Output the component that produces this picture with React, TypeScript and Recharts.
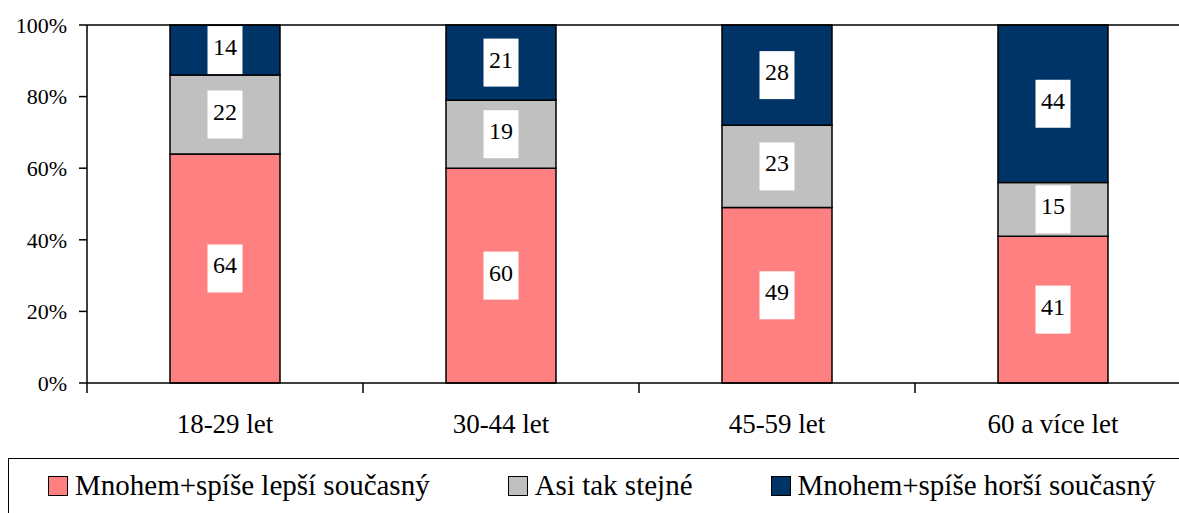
import React from 'react';
import { BarChart, Bar, XAxis, YAxis, ReferenceLine, LabelList, Legend } from 'recharts';

const categories = ['18-29 let', '30-44 let', '45-59 let', '60 a více let'];
const better = [64, 60, 49, 41];
const same = [22, 19, 23, 15];
const worse = [14, 21, 28, 44];
const yTicks = [0, 20, 40, 60, 80, 100];

const series = [
  { key: 'better', name: 'Mnohem+spíše lepší současný', color: '#FF8080' },
  { key: 'same', name: 'Asi tak stejné', color: '#C0C0C0' },
  { key: 'worse', name: 'Mnohem+spíše horší současný', color: '#003366' },
];

const data = categories.map((c, i) => ({
  category: c,
  better: better[i],
  same: same[i],
  worse: worse[i],
}));

const FONT = "'Liberation Serif', 'Times New Roman', 'DejaVu Serif', serif";
const TICK_GAP = 31;

// category label + separator tick marks between categories (Excel style)
function CategoryTick(props: any) {
  const { x, y, payload, index, visibleTicksCount } = props;
  const half = payload.offset || 0;
  const axisY = y - TICK_GAP;
  const last = index === (visibleTicksCount ?? categories.length) - 1;
  return (
    <g>
      <line x1={x - half} x2={x - half} y1={axisY} y2={axisY + 10} stroke="#000" strokeWidth={1.5} />
      {last && (
        <line x1={x + half} x2={x + half} y1={axisY} y2={axisY + 10} stroke="#000" strokeWidth={1.5} />
      )}
      <text x={x} y={y} dy="0.71em" textAnchor="middle" fontSize={27} fill="#000" style={{ fontFamily: FONT }}>
        {payload.value}
      </text>
    </g>
  );
}

// white box with the value, centred in the segment
function BoxLabel(props: any) {
  const { x, y, width, height, value } = props;
  const cx = Number(x) + Number(width) / 2;
  const cy = Number(y) + Number(height) / 2;
  return (
    <g>
      <rect x={cx - 17.5} y={cy - 24} width={35} height={48} fill="#fff" />
      <text x={cx} y={cy + 5} textAnchor="middle" fontSize={24} style={{ fontFamily: FONT }} fill="#000">
        {value}
      </text>
    </g>
  );
}

function LegendBox() {
  return (
    <div
      style={{
        width: 1200,
        height: 80,
        border: '1.5px solid #000',
        boxSizing: 'border-box',
        display: 'flex',
        alignItems: 'flex-start',
        paddingLeft: 39,
        paddingTop: 12,
        fontFamily: FONT,
        fontSize: 29,
        lineHeight: '29px',
        color: '#000',
        background: '#fff',
      }}
    >
      {series.map((s) => (
        <div key={s.key} style={{ display: 'flex', alignItems: 'flex-start', marginRight: 78 }}>
          <span
            style={{
              display: 'inline-block',
              width: 20,
              height: 20,
              marginTop: 5,
              marginRight: 7,
              background: s.color,
              border: '1px solid #000',
              boxSizing: 'border-box',
            }}
          />
          <span style={{ whiteSpace: 'nowrap' }}>{s.name}</span>
        </div>
      ))}
    </div>
  );
}

export default function App() {
  return (
    <div
      style={{
        position: 'absolute',
        left: 0,
        top: 0,
        width: 1179,
        height: 513,
        overflow: 'hidden',
        background: '#fff',
        fontFamily: FONT,
      }}
    >
      <BarChart
        width={1200}
        height={513}
        data={data}
        margin={{ top: 25, right: 9, bottom: 70, left: 0 }}
        barSize={110}
        style={{ fontFamily: FONT }}
      >
        <XAxis
          dataKey="category"
          height={60}
          tickLine={false}
          tickSize={0}
          tickMargin={TICK_GAP}
          interval={0}
          axisLine={{ stroke: '#000', strokeWidth: 1.5 }}
          tick={CategoryTick}
        />
        <YAxis
          domain={[0, 100]}
          ticks={yTicks}
          width={87}
          tickSize={8}
          tickMargin={12}
          tickFormatter={(v) => `${v}%`}
          axisLine={{ stroke: '#000', strokeWidth: 1.5 }}
          tickLine={{ stroke: '#000', strokeWidth: 1.5 }}
          tick={{ fontSize: 22, fill: '#000', style: { fontFamily: FONT } }}
        />
        <ReferenceLine y={100} stroke="#000" strokeWidth={1.5} />
        {series.map((s) => (
          <Bar
            key={s.key}
            dataKey={s.key}
            name={s.name}
            stackId="a"
            fill={s.color}
            stroke="#000"
            strokeWidth={1.5}
            isAnimationActive={false}
          >
            <LabelList dataKey={s.key} content={BoxLabel} />
          </Bar>
        ))}
        <Legend
          layout="horizontal"
          verticalAlign="middle"
          align="center"
          wrapperStyle={{ left: 8, top: 458, width: 1200 }}
          content={LegendBox}
        />
      </BarChart>
    </div>
  );
}
